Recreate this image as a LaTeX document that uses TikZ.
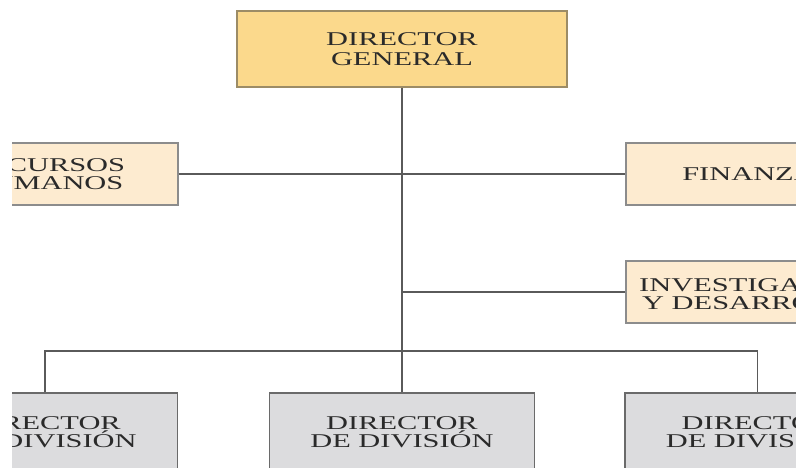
\documentclass[tikz,border=0pt]{standalone}
\usepackage{fontspec}
\setmainfont{Liberation Serif}[FakeStretch=1.56]
\definecolor{topfill}{HTML}{FBD98C}
\definecolor{topdraw}{HTML}{9C8C66}
\definecolor{sidefill}{HTML}{FDEBD0}
\definecolor{sidedraw}{HTML}{8C8C8C}
\definecolor{botfill}{HTML}{DCDCDE}
\definecolor{botdraw}{HTML}{6A6A6A}
\definecolor{linecol}{HTML}{5A5A5A}
\definecolor{txt}{HTML}{2A2A2A}
\tikzset{
  box/.style={draw, line width=1.4pt, align=center, inner sep=0pt,
    text=txt, font=\fontsize{19.5}{18.5}\selectfont},
  topbox/.style={box, fill=topfill, draw=topdraw, minimum width=330pt, minimum height=76pt,
    font=\fontsize{19.5}{20}\selectfont},
  sidebox/.style={box, fill=sidefill, draw=sidedraw, minimum width=263pt, minimum height=62pt},
  botbox/.style={box, fill=botfill, draw=botdraw, minimum width=265pt, minimum height=78pt},
  conn/.style={draw=linecol, line width=1.5pt}
}
\begin{document}
\begin{tikzpicture}[x=1pt,y=-1pt]
\useasboundingbox (0,0) rectangle (796,468);
\fill[white] (0,0) rectangle (796,468);
\clip (12,0) rectangle (796,468);
\node[topbox] (top) at (402,49) {DIRECTOR\\GENERAL};
\node[sidebox] (rh) at (46.5,174) {RECURSOS\\HUMANOS};
\node[sidebox] (fin) at (757.5,174) {FINANZAS};
\node[sidebox] (inv) at (757.5,292) {INVESTIGACIÓN\\Y DESARROLLO};
\node[botbox] (bl) at (45,432) {DIRECTOR\\DE DIVISIÓN};
\node[botbox] (bc) at (402,432) {DIRECTOR\\DE DIVISIÓN};
\node[botbox] (br) at (757.5,432) {DIRECTOR\\DE DIVISIÓN};
\coordinate (bus) at (402,351);
\draw[conn] (top.south) -- (bc.north);
\draw[conn] (rh.east) -- (fin.west);
\draw[conn] (inv.west) -- (inv.west -| top.south);
\draw[conn] (bl.north) |- (bus) -| (br.north);
\end{tikzpicture}
\end{document}
